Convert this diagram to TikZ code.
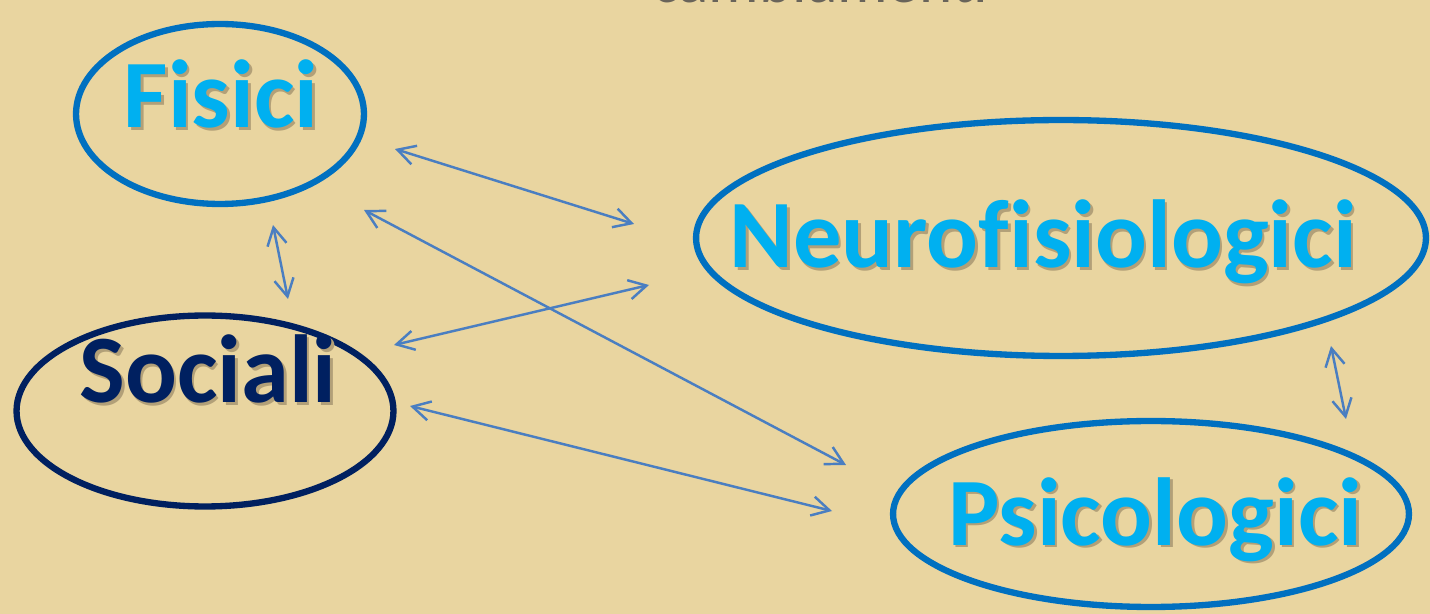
\documentclass[tikz,border=0pt]{standalone}
\usepackage{fontspec}
\setmainfont{Carlito}[Ligatures=NoCommon]
\usepackage{tikz}
\usetikzlibrary{positioning,shapes.geometric,arrows.meta}
\definecolor{papyrus}{RGB}{233,213,160}
\definecolor{ovalblue}{RGB}{0,112,192}
\definecolor{wordblue}{RGB}{0,176,240}
\definecolor{navy}{RGB}{0,32,96}
\definecolor{linkblue}{RGB}{74,126,193}
\definecolor{titlegray}{RGB}{105,100,90}
\definecolor{shade}{RGB}{178,160,120}
\newcommand{\shadowed}[1]{\rlap{\kern1.5pt\raisebox{-1.5pt}{\textcolor{shade}{#1}}}#1}
\tikzset{
  % Specifications for style of nodes:
  base/.style = {
    ellipse,
    draw,
    line width=3.6pt,
    inner sep=0pt
  },
  oval/.style = {
    base,
    draw=ovalblue
  },
  darkoval/.style = {
    base,
    draw=navy
  },
  word/.style = {
    anchor=base,
    font=\bfseries\fontsize{55}{60}\selectfont,
    text=wordblue
  },
  title/.style = {
    anchor=base,
    font=\fontsize{36}{40}\selectfont,
    text=titlegray
  },
  link/.style = {
    draw=linkblue,
    line width=1.4pt,
    <->,
    >={Straight Barb[length=10pt,width=11pt]}
  },
}

\begin{document}
\begin{tikzpicture}[x=0.02cm, y=-0.02cm]
    % Background
    \clip (0,0) rectangle (1430,614);
    \fill[papyrus] (0,0) rectangle (1430,614);
    \node[title] (titolo) at (820,3) {cambiamenti};
    % Specification of nodes (position, etc.)
    \node[oval, minimum width=5.76cm, minimum height=3.6cm]      (fisici)  at (220,114)  {};
    \node[oval, minimum width=14.6cm, minimum height=4.72cm]     (neuro)   at (1061,238) {};
    \node[darkoval, minimum width=7.54cm, minimum height=3.82cm] (sociali) at (205,411)  {};
    \node[oval, minimum width=10.32cm, minimum height=3.72cm]    (psico)   at (1151,514) {};
    \node[word]             (fisicitext)  at (221,128)  {\shadowed{Fisici}};
    \node[word]             (neurotext)   at (1043,268) {\shadowed{Neurofisiologici}};
    \node[word, text=navy]  (socialitext) at (208,403)  {\shadowed{Sociali}};
    \node[word]             (psicotext)   at (1155,545) {\shadowed{Psicologici}};
    % Arrow ends
    \coordinate (fn1) at (395,149);
    \coordinate (fn2) at (634,224);
    \coordinate (fp1) at (364,210);
    \coordinate (fp2) at (846,465);
    \coordinate (sn1) at (394,345);
    \coordinate (sn2) at (649,285);
    \coordinate (sp1) at (410,406);
    \coordinate (sp2) at (832,511);
    \coordinate (fs1) at (273,225);
    \coordinate (fs2) at (288,299);
    \coordinate (np1) at (1331,346);
    \coordinate (np2) at (1346,419);
    % Connections
    \draw[link] (fn1) -- (fn2);
    \draw[link] (fp1) -- (fp2);
    \draw[link] (sn1) -- (sn2);
    \draw[link] (sp1) -- (sp2);
    \draw[link] (fs1) -- (fs2);
    \draw[link] (np1) -- (np2);
  \end{tikzpicture}
\end{document}
